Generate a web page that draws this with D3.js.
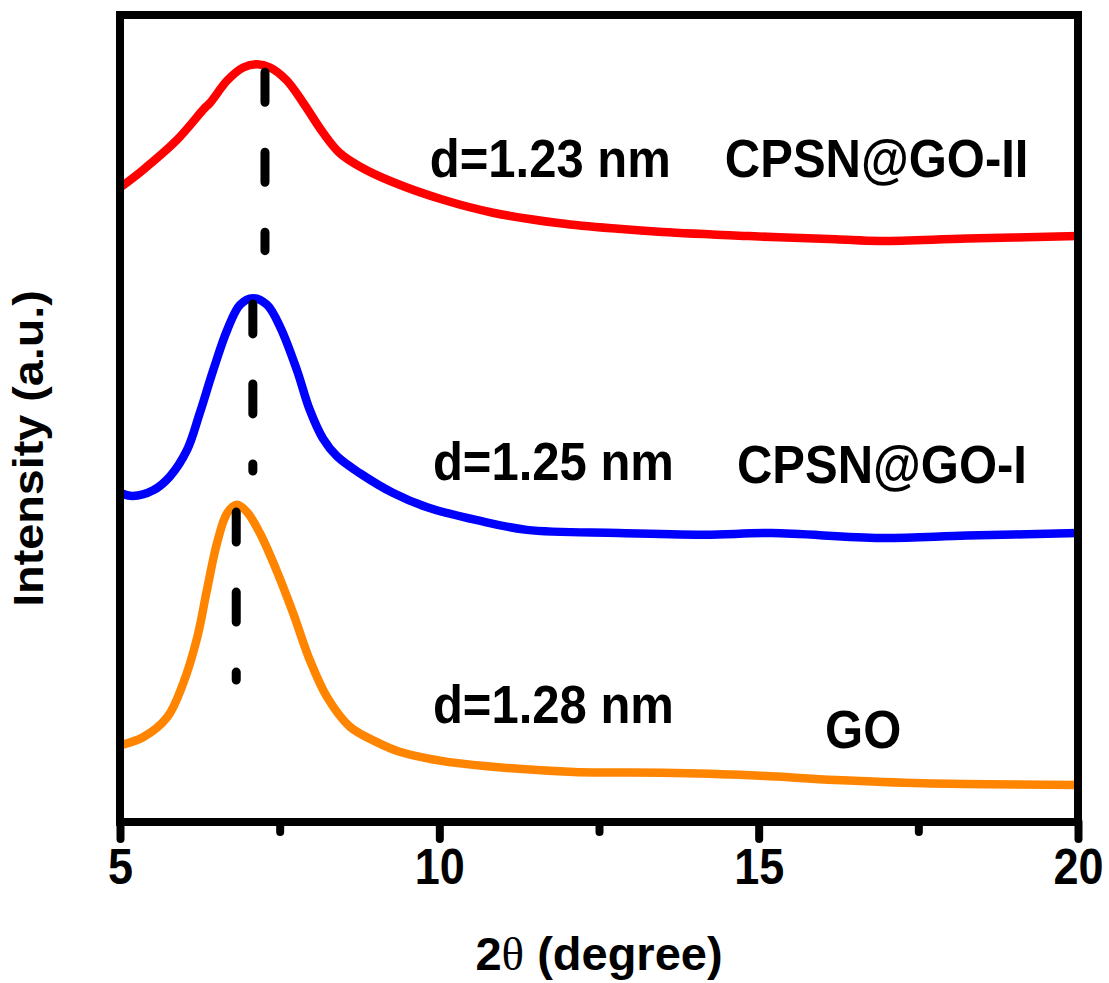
<!DOCTYPE html>
<html lang="en">
<head>
    <meta charset="UTF-8">
    <title>XRD GO / CPSN@GO</title>
    <style>
        body {
            margin: 0;
            background: #fff;
        }
        svg {
            display: block;
        }
        text {
            font-family: "Liberation Sans", Arial, sans-serif;
            font-weight: bold;
            fill: #000;
        }
    </style>
</head>
<body>
    <svg width="1109" height="983"></svg>

    <script src="https://d3js.org/d3.v7.min.js"></script>
    <script>
        // 2theta (degree) and intensity (a.u.)
        let redX  = [5.00, 5.36, 5.89, 6.33, 6.41, 6.68, 6.93, 7.15, 7.35, 7.61, 7.87, 8.18, 8.44, 8.76, 9.27, 10.06, 10.84, 11.89, 12.80, 13.49, 14.85, 16.21, 16.90, 18.26, 20.00];
        let redY  = [78.6, 80.8, 84.5, 88.5, 89.1, 91.9, 93.5, 93.9, 93.5, 91.9, 89.1, 85.4, 82.9, 81.2, 79.3, 77.1, 75.5, 74.2, 73.5, 73.1, 72.6, 72.2, 72.0, 72.3, 72.6];

        let blueX = [5.00, 5.20, 5.52, 5.78, 6.05, 6.25, 6.46, 6.68, 6.88, 7.08, 7.30, 7.51, 7.77, 7.97, 8.18, 8.40, 8.76, 9.27, 9.81, 10.59, 11.37, 12.80, 14.16, 15.20, 16.90, 18.26, 20.00];
        let blueY = [40.8, 40.4, 41.1, 42.8, 46.1, 50.7, 56.0, 61.0, 64.1, 64.9, 64.1, 61.3, 56.0, 51.1, 47.5, 45.3, 43.2, 40.8, 39.0, 37.4, 36.2, 35.8, 35.6, 35.8, 35.2, 35.5, 35.8];

        let orangeX = [5.00, 5.36, 5.74, 5.99, 6.21, 6.36, 6.52, 6.68, 6.83, 6.99, 7.19, 7.46, 7.71, 7.97, 8.24, 8.60, 9.02, 9.38, 10.01, 10.75, 12.11, 13.49, 14.85, 16.21, 17.57, 20.00];
        let orangeY = [9.5, 10.5, 13.0, 17.2, 22.9, 28.7, 34.6, 38.3, 39.3, 38.4, 35.8, 31.0, 25.9, 20.1, 15.5, 11.8, 9.9, 8.7, 7.6, 6.9, 6.2, 6.1, 5.8, 5.2, 4.8, 4.6];

        let seriesColors = ["#ff0000", "#0000ff", "#ff8400"];
        let sampleNames = ["CPSN@GO-II", "CPSN@GO-I", "GO"];
        let dLabels = ["d=1.23 nm", "d=1.25 nm", "d=1.28 nm"];

        // peak markers: 2theta and intensity span of the dashed line
        let peakX = [7.27, 7.08, 6.82];
        let peakTop = [92.9, 64.2, 38.4];
        let peakBottom = [70.8, 43.5, 17.6];

        // annotation anchors (2theta, intensity)
        let dLabelX = [9.85, 9.90, 9.90];
        let dLabelY = [79.9, 42.4, 12.3];
        let nameX = [14.47, 14.66, 16.04];
        let nameY = [79.9, 42.0, 9.2];

        let majorTicks = [5, 10, 15, 20];
        let minorTicks = [7.5, 12.5, 17.5];

        let svg = d3.select("svg");

        let xScale = d3.scaleLinear().domain([5, 20]).range([120, 1078]);
        let yScale = d3.scaleLinear().domain([0, 100]).range([822, 15]);

        let series = [
            redX.map((x, i) => [x, redY[i]]),
            blueX.map((x, i) => [x, blueY[i]]),
            orangeX.map((x, i) => [x, orangeY[i]])
        ];

        let line = d3.line()
            .x(d => xScale(d[0]))
            .y(d => yScale(d[1]))
            .curve(d3.curveCatmullRom.alpha(0.5));

        series.forEach((s, i) => {
            svg.append("path")
                .datum(s)
                .attr("d", line)
                .attr("fill", "none")
                .attr("stroke", seriesColors[i])
                .attr("stroke-width", 8.5);
        });

        // dashed peak lines
        peakX.forEach((x, i) => {
            svg.append("line")
                .attr("x1", xScale(x))
                .attr("x2", xScale(x))
                .attr("y1", yScale(peakTop[i]))
                .attr("y2", yScale(peakBottom[i]))
                .attr("stroke", "#000")
                .attr("stroke-width", 9)
                .attr("stroke-linecap", "round")
                .attr("stroke-dasharray", "30,50");
        });

        // frame
        svg.append("rect")
            .attr("x", xScale(5))
            .attr("y", yScale(100))
            .attr("width", xScale(20) - xScale(5))
            .attr("height", yScale(0) - yScale(100))
            .attr("fill", "none")
            .attr("stroke", "#000")
            .attr("stroke-width", 8);

        // bottom axis: major and minor ticks
        let minorAxis = svg.append("g")
            .attr("transform", `translate(0, ${yScale(0)})`)
            .call(d3.axisBottom(xScale).tickValues(minorTicks).tickSize(10).tickFormat(""));

        let majorAxis = svg.append("g")
            .attr("transform", `translate(0, ${yScale(0)})`)
            .call(d3.axisBottom(xScale).tickValues(majorTicks).tickSize(17).tickFormat(d3.format("d")));

        [minorAxis, majorAxis].forEach(g => {
            g.select(".domain").remove();
            g.selectAll(".tick line")
                .attr("stroke", "#000")
                .attr("stroke-width", 8)
                .attr("stroke-linecap", "round");
        });

        majorAxis.selectAll(".tick text")
            .attr("y", 62 / 1.1)
            .attr("dy", null)
            .attr("transform", "scale(1,1.1)")
            .attr("fill", "#000")
            .style("font-family", "'Liberation Sans', Arial, sans-serif")
            .style("font-weight", "bold")
            .style("font-size", "45px");

        // annotations
        function stretchedText(text, px, py, size) {
            svg.append("text")
                .attr("transform", `translate(${px},${py}) scale(1,1.1)`)
                .style("font-size", size + "px")
                .text(text);
        }

        dLabels.forEach((t, i) => stretchedText(t, xScale(dLabelX[i]), yScale(dLabelY[i]), 49));
        sampleNames.forEach((t, i) => stretchedText(t, xScale(nameX[i]), yScale(nameY[i]), 49));

        // axis titles
        let xTitle = svg.append("text")
            .attr("x", (xScale(5) + xScale(20)) / 2)
            .attr("y", 970)
            .attr("text-anchor", "middle")
            .style("font-size", "47px");
        xTitle.append("tspan").text("2");
        xTitle.append("tspan")
            .style("font-family", "'Liberation Serif', 'Times New Roman', serif")
            .style("font-weight", "normal")
            .text("\u03b8");
        xTitle.append("tspan").text(" (degree)");

        svg.append("text")
            .attr("transform", `translate(43, ${(yScale(0) + yScale(100)) / 2 + 30}) scale(1,1.1) rotate(-90)`)
            .attr("text-anchor", "middle")
            .style("font-size", "42.5px")
            .text("Intensity (a.u.)");
    </script>
</body>
</html>
